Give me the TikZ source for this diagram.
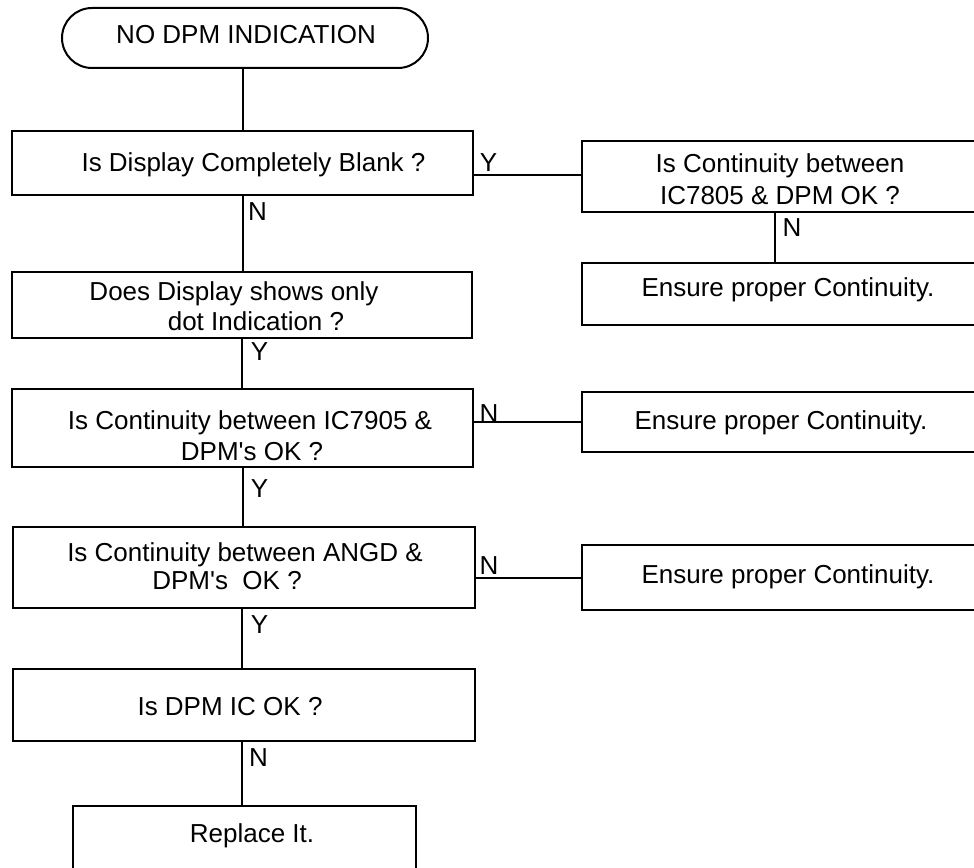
\documentclass[tikz,border=0pt]{standalone}
\usepackage{fontspec}
\setmainfont{Liberation Sans}[Ligatures=TeXOff]
\usetikzlibrary{shapes.misc}
\newcommand\tline[3]{\makebox[0pt]{\hspace*{#1}\hspace*{#1}\raisebox{#2}[0pt][0pt]{#3}}}
\begin{document}
\begin{tikzpicture}[x=1pt,y=-1pt,
  every node/.style={font=\fontsize{26}{31}\selectfont},
  box/.style={draw, line width=2pt, inner sep=0pt, rectangle},
  term/.style={draw, line width=2pt, inner sep=0pt, rounded rectangle},
  lbl/.style={inner sep=0pt},
  conn/.style={line width=2pt}]
\useasboundingbox[fill=white] (0,0) rectangle (974,867);

\node[term, minimum width=366pt, minimum height=60pt] (t) at (245,38) {\tline{1pt}{-5.3pt}{NO DPM INDICATION}};
\node[box, minimum width=461pt, minimum height=64pt] (b1) at (242.5,163) {\tline{11pt}{-8.3pt}{Is Display Completely Blank ?}};
\node[box, minimum width=393pt, minimum height=71pt] (b2) at (778.5,176.5) {\tline{1.5pt}{4.2pt}{Is Continuity between}\tline{1.5pt}{-27.8pt}{IC7805 \& DPM OK ?}};
\node[box, minimum width=393pt, minimum height=62pt] (b3) at (778.5,294) {\tline{9.5pt}{-2.3pt}{Ensure proper Continuity.}};
\node[box, minimum width=460pt, minimum height=66pt] (b4) at (242,305) {\tline{-8pt}{4.7pt}{Does Display shows only}\tline{14pt}{-25.3pt}{dot Indication ?}};
\node[box, minimum width=461pt, minimum height=78pt] (b5) at (242.5,428) {\tline{7.5pt}{-1.3pt}{Is Continuity between IC7905 \&}\tline{9.5pt}{-32.3pt}{DPM's OK ?}};
\node[box, minimum width=393pt, minimum height=60pt] (b6) at (778.5,422) {\tline{2.5pt}{-7.3pt}{Ensure proper Continuity.}};
\node[box, minimum width=462pt, minimum height=81pt] (b7) at (244,567.5) {\tline{1pt}{6.2pt}{Is Continuity between ANGD \&}\tline{-17pt}{-21.8pt}{DPM's\ \ OK ?}};
\node[box, minimum width=393pt, minimum height=65pt] (b8) at (778.5,577.5) {\tline{9.5pt}{-5.8pt}{Ensure proper Continuity.}};
\node[box, minimum width=462pt, minimum height=72pt] (b9) at (244,705) {\tline{-14pt}{-10.3pt}{Is DPM IC OK ?}};
\node[box, minimum width=343pt, minimum height=63pt] (b10) at (244.5,837.5) {\tline{7.5pt}{-4.8pt}{Replace It.}};

\coordinate (c1) at ([yshift=-12pt]b1.east);
\coordinate (c2) at ([xshift=-3.5pt]b2.south);
\coordinate (c7) at ([xshift=-2pt]b7.south);
\coordinate (c9) at ([xshift=-2pt]b9.south);

\draw[conn] (b1.north |- t.south) -- (b1.north);
\draw[conn] (b1.south) -- (b1.south |- b4.north);
\draw[conn] (c1) -- (c1 -| b2.west);
\draw[conn] (c2) -- (c2 |- b3.north);
\draw[conn] (b4.south) -- (b4.south |- b5.north);
\draw[conn] (b6.west -| b5.east) -- (b6.west);
\draw[conn] (b5.south) -- (b5.south |- b7.north);
\draw[conn] (b8.west -| b7.east) -- (b8.west);
\draw[conn] (c7) -- (c7 |- b9.north);
\draw[conn] (c9) -- (c9 |- b10.north);

\node[lbl] (l1) at (488.5,163) {Y};
\node[lbl] (l2) at (257.5,212) {N};
\node[lbl] (l3) at (792,228) {N};
\node[lbl] (l4) at (259.5,352) {Y};
\node[lbl] (l5) at (489,414) {N};
\node[lbl] (l6) at (259.5,489) {Y};
\node[lbl] (l7) at (489,566) {N};
\node[lbl] (l8) at (259.5,625) {Y};
\node[lbl] (l9) at (258.5,758) {N};
\end{tikzpicture}
\end{document}
